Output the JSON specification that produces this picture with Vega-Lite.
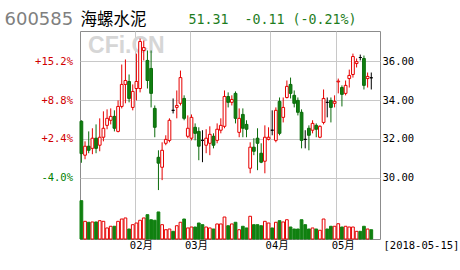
{
  "$schema": "https://vega.github.io/schema/vega-lite/v6.json",
  "width": 300,
  "height": 208,
  "autosize": {"type": "none"},
  "padding": {"left": 80, "top": 31, "right": 80, "bottom": 31},
  "background": "white",
  "config": {
    "view": {"stroke": "#8c8c8c", "strokeWidth": 1},
    "axis": {"domain": false, "ticks": false, "tickSize": 0, "gridColor": "#c8c8c8", "gridWidth": 1, "labelFont": "DejaVu Sans Mono, Noto Sans CJK SC", "labelFontSize": 10.5, "labelColor": "#000000"}
  },
  "data": {"values": [
    {"d":"2018-01-11","o":32.91,"c":31.25,"h":32.96,"l":30.78,"v":47.9},
    {"d":"2018-01-12","o":31.17,"c":31.63,"h":31.88,"l":30.96,"v":22.1},
    {"d":"2018-01-15","o":31.63,"c":31.42,"h":32.39,"l":31.27,"v":20.9},
    {"d":"2018-01-16","o":31.52,"c":32.04,"h":32.55,"l":31.22,"v":21.3},
    {"d":"2018-01-17","o":32.04,"c":31.52,"h":32.75,"l":31.27,"v":21.3},
    {"d":"2018-01-18","o":31.68,"c":32.09,"h":33.06,"l":31.37,"v":22.9},
    {"d":"2018-01-19","o":32.09,"c":32.55,"h":33.42,"l":31.88,"v":22.1},
    {"d":"2018-01-22","o":32.70,"c":33.06,"h":33.52,"l":32.50,"v":13.8},
    {"d":"2018-01-23","o":32.96,"c":33.16,"h":33.57,"l":32.75,"v":15.9},
    {"d":"2018-01-24","o":33.16,"c":32.55,"h":33.47,"l":32.39,"v":15.9},
    {"d":"2018-01-25","o":32.39,"c":33.67,"h":33.98,"l":32.34,"v":22.1},
    {"d":"2018-01-26","o":33.67,"c":34.80,"h":35.82,"l":33.57,"v":25.0},
    {"d":"2018-01-29","o":34.80,"c":35.00,"h":36.08,"l":33.83,"v":26.3},
    {"d":"2018-01-30","o":34.95,"c":34.08,"h":35.31,"l":33.88,"v":12.5},
    {"d":"2018-01-31","o":33.62,"c":34.44,"h":34.80,"l":33.47,"v":17.9},
    {"d":"2018-02-01","o":34.59,"c":34.95,"h":36.38,"l":33.98,"v":20.0},
    {"d":"2018-02-02","o":34.59,"c":37.00,"h":37.15,"l":34.39,"v":23.4},
    {"d":"2018-02-05","o":36.54,"c":36.69,"h":37.05,"l":36.03,"v":26.3},
    {"d":"2018-02-06","o":36.03,"c":35.00,"h":36.54,"l":34.59,"v":30.4},
    {"d":"2018-02-07","o":35.62,"c":34.34,"h":36.54,"l":33.62,"v":24.1},
    {"d":"2018-02-08","o":33.57,"c":32.60,"h":33.72,"l":32.09,"v":23.4},
    {"d":"2018-02-09","o":31.06,"c":30.76,"h":31.42,"l":29.38,"v":33.8},
    {"d":"2018-02-12","o":30.55,"c":31.42,"h":31.83,"l":29.89,"v":17.9},
    {"d":"2018-02-13","o":31.78,"c":31.98,"h":32.19,"l":31.68,"v":11.6},
    {"d":"2018-02-14","o":31.93,"c":32.96,"h":33.06,"l":31.83,"v":12.5},
    {"d":"2018-02-22","o":33.47,"c":33.47,"h":34.08,"l":33.31,"v":9.6},
    {"d":"2018-02-23","o":33.62,"c":33.72,"h":34.49,"l":33.06,"v":16.6},
    {"d":"2018-02-26","o":33.83,"c":35.15,"h":35.51,"l":33.72,"v":20.9},
    {"d":"2018-02-27","o":34.08,"c":33.06,"h":34.24,"l":32.96,"v":25.0},
    {"d":"2018-02-28","o":32.14,"c":32.55,"h":33.21,"l":32.04,"v":13.8},
    {"d":"2018-03-01","o":32.04,"c":33.11,"h":33.26,"l":31.93,"v":15.0},
    {"d":"2018-03-02","o":32.60,"c":32.29,"h":32.80,"l":31.93,"v":15.0},
    {"d":"2018-03-05","o":32.39,"c":31.63,"h":32.60,"l":30.91,"v":20.0},
    {"d":"2018-03-06","o":31.93,"c":31.93,"h":32.45,"l":30.81,"v":17.9},
    {"d":"2018-03-07","o":31.68,"c":32.04,"h":32.50,"l":31.27,"v":15.0},
    {"d":"2018-03-08","o":31.78,"c":32.24,"h":32.65,"l":31.17,"v":13.8},
    {"d":"2018-03-09","o":32.14,"c":31.68,"h":32.29,"l":31.52,"v":12.5},
    {"d":"2018-03-12","o":31.93,"c":32.50,"h":32.80,"l":31.78,"v":18.8},
    {"d":"2018-03-13","o":32.45,"c":32.70,"h":33.06,"l":32.29,"v":18.8},
    {"d":"2018-03-14","o":32.65,"c":34.18,"h":34.49,"l":32.55,"v":27.5},
    {"d":"2018-03-15","o":34.18,"c":33.88,"h":34.39,"l":33.62,"v":16.6},
    {"d":"2018-03-16","o":33.88,"c":34.03,"h":34.24,"l":33.72,"v":18.8},
    {"d":"2018-03-19","o":34.34,"c":33.06,"h":34.44,"l":32.80,"v":20.9},
    {"d":"2018-03-20","o":32.34,"c":33.06,"h":33.57,"l":32.09,"v":11.6},
    {"d":"2018-03-21","o":33.26,"c":32.55,"h":33.57,"l":32.09,"v":15.9},
    {"d":"2018-03-22","o":32.75,"c":32.50,"h":32.96,"l":32.09,"v":13.8},
    {"d":"2018-03-23","o":30.50,"c":31.58,"h":31.83,"l":30.24,"v":28.4},
    {"d":"2018-03-26","o":31.58,"c":31.37,"h":32.04,"l":31.17,"v":17.9},
    {"d":"2018-03-27","o":32.04,"c":31.78,"h":32.55,"l":30.40,"v":17.9},
    {"d":"2018-03-28","o":31.27,"c":30.81,"h":31.78,"l":30.76,"v":16.6},
    {"d":"2018-03-29","o":30.86,"c":32.09,"h":32.70,"l":30.24,"v":22.1},
    {"d":"2018-03-30","o":31.98,"c":32.09,"h":32.60,"l":31.93,"v":20.0},
    {"d":"2018-04-02","o":32.45,"c":32.45,"h":33.47,"l":32.19,"v":13.8},
    {"d":"2018-04-03","o":31.93,"c":33.47,"h":33.62,"l":31.83,"v":20.9},
    {"d":"2018-04-04","o":33.93,"c":32.29,"h":34.13,"l":32.19,"v":22.9},
    {"d":"2018-04-09","o":33.11,"c":33.62,"h":34.13,"l":32.85,"v":21.3},
    {"d":"2018-04-10","o":34.13,"c":34.70,"h":35.00,"l":34.08,"v":24.1},
    {"d":"2018-04-11","o":34.80,"c":34.34,"h":35.15,"l":34.08,"v":15.0},
    {"d":"2018-04-12","o":34.24,"c":33.83,"h":34.49,"l":33.62,"v":12.5},
    {"d":"2018-04-13","o":33.98,"c":33.37,"h":34.13,"l":33.21,"v":12.5},
    {"d":"2018-04-16","o":33.37,"c":31.93,"h":33.52,"l":31.52,"v":24.1},
    {"d":"2018-04-17","o":31.98,"c":31.98,"h":32.45,"l":31.52,"v":17.9},
    {"d":"2018-04-18","o":32.55,"c":32.19,"h":32.70,"l":31.42,"v":12.5},
    {"d":"2018-04-19","o":32.45,"c":32.80,"h":32.96,"l":32.29,"v":13.8},
    {"d":"2018-04-20","o":32.70,"c":32.50,"h":32.80,"l":32.09,"v":12.5},
    {"d":"2018-04-23","o":32.09,"c":32.65,"h":32.70,"l":32.04,"v":10.9},
    {"d":"2018-04-24","o":32.85,"c":34.08,"h":34.54,"l":32.75,"v":25.0},
    {"d":"2018-04-25","o":33.88,"c":33.88,"h":34.13,"l":33.11,"v":12.5},
    {"d":"2018-04-26","o":33.98,"c":33.62,"h":34.13,"l":32.85,"v":15.9},
    {"d":"2018-04-27","o":33.83,"c":33.93,"h":34.24,"l":33.62,"v":15.9},
    {"d":"2018-05-02","o":34.93,"c":34.97,"h":35.10,"l":34.34,"v":19.1},
    {"d":"2018-05-03","o":34.64,"c":34.29,"h":34.75,"l":33.67,"v":15.0},
    {"d":"2018-05-04","o":34.34,"c":34.75,"h":35.00,"l":34.24,"v":15.9},
    {"d":"2018-05-07","o":35.10,"c":35.26,"h":35.56,"l":34.64,"v":15.0},
    {"d":"2018-05-08","o":35.31,"c":36.23,"h":36.38,"l":35.15,"v":15.0},
    {"d":"2018-05-09","o":35.87,"c":35.97,"h":36.13,"l":35.67,"v":9.6},
    {"d":"2018-05-10","o":36.18,"c":36.18,"h":36.33,"l":36.03,"v":9.6},
    {"d":"2018-05-11","o":36.13,"c":34.75,"h":36.28,"l":34.54,"v":15.9},
    {"d":"2018-05-14","o":35.10,"c":35.21,"h":35.41,"l":34.64,"v":12.5},
    {"d":"2018-05-15","o":35.14,"c":35.14,"h":35.41,"l":34.54,"v":11.6}
  ]},
  "transform": [
    {"calculate": "datum.c > datum.o ? 'up' : (datum.c < datum.o ? 'down' : 'flat')", "as": "dir"}
  ],
  "encoding": {
    "x": {
      "field": "d", "type": "ordinal",
      "scale": {"type": "band", "paddingInner": 0.25, "paddingOuter": 1, "align": 0},
      "axis": {
        "values": ["2018-02-01", "2018-03-01", "2018-04-02", "2018-05-02"],
        "grid": true, "bandPosition": 0,
        "labelExpr": "slice(datum.value, 5, 7) + '月'",
        "labelAngle": 0, "labelOffset": 5, "labelPadding": 1,
        "title": "[2018-05-15]", "titleX": 303, "titleY": 6.5,
        "titleAlign": "left", "titleBaseline": "middle", "titleAngle": 0,
        "titleFont": "DejaVu Sans Mono", "titleFontSize": 10.5, "titleFontWeight": "normal", "titleColor": "#000000"
      }
    }
  },
  "layer": [
    {
      "data": {"values": [{"d": "2018-01-12", "t": "CFi.CN"}]},
      "mark": {"type": "text", "align": "left", "baseline": "middle", "dx": 3, "font": "Liberation Sans", "fontSize": 23, "fontWeight": "bold", "color": "#d6d6d6"},
      "encoding": {
        "y": {"datum": 36.79, "type": "quantitative", "scale": {"domain": [26.87, 37.54], "nice": false, "zero": false}, "axis": null},
        "text": {"field": "t"}
      }
    },
    {
      "mark": {"type": "rule", "strokeWidth": 1},
      "encoding": {
        "y": {
          "field": "l", "type": "quantitative",
          "scale": {"domain": [26.87, 37.54], "nice": false, "zero": false},
          "axis": {
            "orient": "left", "values": [30, 32, 34, 36], "grid": true,
            "labelExpr": "(datum.value < 31.25 ? '-' : '+') + format(abs(datum.value / 31.25 - 1) * 100, '.1f') + '%'",
            "labelColor": {"condition": {"test": "datum.value < 31.25", "value": "#008000"}, "value": "#d00000"},
            "labelPadding": 7.5,
            "title": "600585", "titleAngle": 0, "titleX": -76, "titleY": -11.5,
            "titleAlign": "left", "titleBaseline": "middle",
            "titleFont": "DejaVu Sans", "titleFontSize": 18, "titleFontWeight": "normal", "titleColor": "#7f7f7f"
          }
        },
        "y2": {"field": "h"},
        "stroke": {"field": "dir", "type": "nominal", "scale": {"domain": ["up", "down", "flat"], "range": ["#e60000", "#0b6b0b", "#000000"]}, "legend": null}
      }
    },
    {
      "mark": {"type": "bar", "strokeWidth": 1},
      "encoding": {
        "y": {
          "field": "o", "type": "quantitative",
          "scale": {"domain": [26.87, 37.54], "nice": false, "zero": false},
          "axis": {
            "orient": "right", "values": [30, 32, 34, 36], "grid": false, "format": ".2f",
            "labelPadding": 2,
            "title": "51.31\u00a0\u00a0-0.11 (-0.21%)", "titleAngle": 0, "titleX": -192, "titleY": -11.5,
            "titleAlign": "left", "titleBaseline": "middle",
            "titleFont": "DejaVu Sans Mono", "titleFontSize": 13.3, "titleFontWeight": "normal", "titleColor": "#1e7d1e"
          }
        },
        "y2": {"field": "c"},
        "fill": {"field": "dir", "type": "nominal", "scale": {"domain": ["up", "down", "flat"], "range": ["#ffffff", "#108010", "#000000"]}, "legend": null},
        "stroke": {"field": "dir", "type": "nominal", "scale": {"domain": ["up", "down", "flat"], "range": ["#e60000", "#0b6b0b", "#000000"]}, "legend": null}
      }
    },
    {
      "mark": {"type": "bar", "strokeWidth": 1},
      "encoding": {
        "y": {
          "field": "v", "type": "quantitative",
          "scale": {"domain": [0, 260], "nice": false, "zero": true},
          "axis": {
            "orient": "left", "labels": false, "grid": false, "ticks": false,
            "title": "海螺水泥", "titleAngle": 0, "titleX": 0, "titleY": -11.5,
            "titleAlign": "left", "titleBaseline": "middle",
            "titleFont": "Noto Sans CJK SC", "titleFontSize": 16.5, "titleFontWeight": "normal", "titleColor": "#000000"
          }
        },
        "fill": {"field": "dir", "type": "nominal", "scale": {"domain": ["up", "down", "flat"], "range": ["#ffffff", "#108010", "#108010"]}, "legend": null},
        "stroke": {"field": "dir", "type": "nominal", "scale": {"domain": ["up", "down", "flat"], "range": ["#e60000", "#108010", "#108010"]}, "legend": null}
      }
    }
  ],
  "resolve": {
    "scale": {"y": "independent", "fill": "independent", "stroke": "independent"},
    "axis": {"y": "independent"}
  }
}
